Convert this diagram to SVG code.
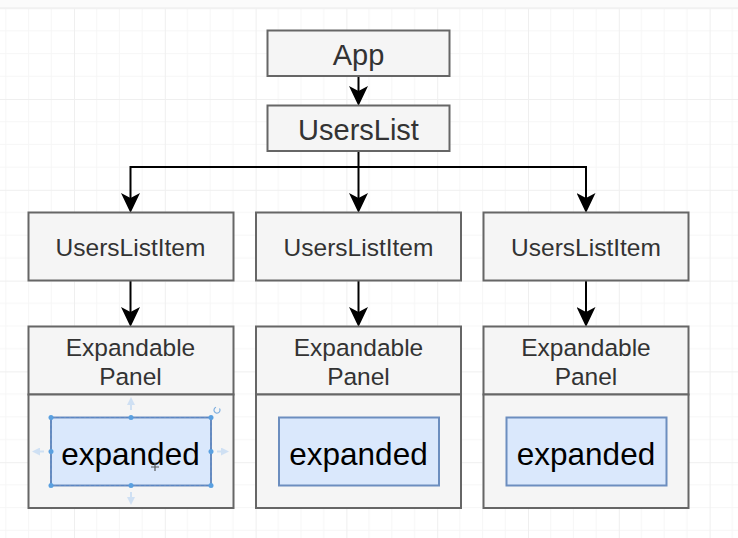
<svg xmlns="http://www.w3.org/2000/svg" width="738" height="538" viewBox="0 0 738 538">
  <defs>
    <pattern id="grid" patternUnits="userSpaceOnUse" x="74" y="99" width="90.8" height="90.8">
      <path d="M22.7,0V90.8M45.4,0V90.8M68.1,0V90.8M0,22.7H90.8M0,45.4H90.8M0,68.1H90.8" stroke="#f6f6f6" stroke-width="1" fill="none"/>
      <path d="M0.5,0V90.8M0,0.5H90.8" stroke="#efefef" stroke-width="1" fill="none"/>
    </pattern>
    <marker id="arrow" markerUnits="userSpaceOnUse" viewBox="0 0 20 19" markerWidth="20" markerHeight="19" refX="5" refY="9.5" orient="auto">
      <path d="M0,0 L20,9.5 L0,19 L5,9.5 Z" fill="#000"/>
    </marker>
    <marker id="hint" markerUnits="userSpaceOnUse" viewBox="0 0 8 8" markerWidth="8" markerHeight="8" refX="4" refY="4" orient="auto">
      <path d="M0,0 L8,4 L0,8 Z" fill="#cfe0f3"/>
    </marker>
  </defs>
  <style>
    .box { fill: #f5f5f5; stroke: #666666; stroke-width: 2; }
    .inner { fill: #dae8fc; stroke: #6c8ebf; stroke-width: 2; }
    .t { font-family: "Liberation Sans", Arial, Helvetica, sans-serif; fill: #333333; text-anchor: middle; }
    .big { font-size: 29px; }
    .mid { font-size: 24.5px; }
    .exp { font-size: 31.5px; fill: #000000; }
    .edge { fill: none; stroke: #000000; stroke-width: 2; marker-end: url(#arrow); }
    .line { fill: none; stroke: #000000; stroke-width: 2; }
    .handle { fill: #5aa0e0; }
  </style>
  <rect x="0" y="0" width="738" height="538" fill="#ffffff"/>
  <rect x="0" y="8" width="738" height="530" fill="url(#grid)"/>
  <rect x="0" y="0" width="738" height="8" fill="#fbfbfb"/>
  <line x1="0" y1="8" x2="738" y2="8" stroke="#f0f0f0" stroke-width="1.5"/>

  <g id="connectors">
    <path class="edge" d="M358.5,76 V91"/>
    <path class="line" d="M130.5,167 H586"/>
    <path class="edge" d="M358.5,151 V198"/>
    <path class="edge" d="M130.5,166 V198"/>
    <path class="edge" d="M586,166 V198"/>
    <path class="edge" d="M130.5,280 V312"/>
    <path class="edge" d="M358.5,280 V312"/>
    <path class="edge" d="M586,280 V312"/>
  </g>

  <g id="app">
    <rect class="box" x="267.5" y="30.5" width="182" height="45.5"/>
    <text class="t big" x="358.5" y="65">App</text>
  </g>
  <g id="userslist">
    <rect class="box" x="267.5" y="105.5" width="182" height="45.5"/>
    <text class="t big" x="358.5" y="139.5">UsersList</text>
  </g>

  <g id="item1">
    <rect class="box" x="28.5" y="212.5" width="205" height="68"/>
    <text class="t mid" x="130.5" y="256">UsersListItem</text>
  </g>
  <g id="item2">
    <rect class="box" x="256" y="212.5" width="205" height="68"/>
    <text class="t mid" x="358.5" y="256">UsersListItem</text>
  </g>
  <g id="item3">
    <rect class="box" x="483.5" y="212.5" width="205" height="68"/>
    <text class="t mid" x="586" y="256">UsersListItem</text>
  </g>

  <g id="panel1">
    <rect class="box" x="28.5" y="326.5" width="205" height="68"/>
    <rect class="box" x="28.5" y="394.5" width="205" height="113.5"/>
    <text class="t mid" x="130.5" y="356">Expandable</text>
    <text class="t mid" x="130.5" y="385">Panel</text>
  </g>
  <g id="panel2">
    <rect class="box" x="256" y="326.5" width="205" height="68"/>
    <rect class="box" x="256" y="394.5" width="205" height="113.5"/>
    <text class="t mid" x="358.5" y="356">Expandable</text>
    <text class="t mid" x="358.5" y="385">Panel</text>
  </g>
  <g id="panel3">
    <rect class="box" x="483.5" y="326.5" width="205" height="68"/>
    <rect class="box" x="483.5" y="394.5" width="205" height="113.5"/>
    <text class="t mid" x="586" y="356">Expandable</text>
    <text class="t mid" x="586" y="385">Panel</text>
  </g>

  <g id="expanded1">
    <rect class="inner" x="51" y="417.5" width="160" height="68"/>
    <text class="t exp" x="130.5" y="465">expanded</text>
  </g>
  <g id="expanded2">
    <rect class="inner" x="279" y="417.5" width="160" height="68"/>
    <text class="t exp" x="358.5" y="465">expanded</text>
  </g>
  <g id="expanded3">
    <rect class="inner" x="506.5" y="417.5" width="160" height="68"/>
    <text class="t exp" x="586" y="465">expanded</text>
  </g>

  <g id="selection">
    <rect x="51" y="417.5" width="160" height="68" fill="none" stroke="#5b86c4" stroke-width="1" stroke-dasharray="3,2"/>
    <circle class="handle" cx="51" cy="417.5" r="2.5"/>
    <circle class="handle" cx="131" cy="417.5" r="2.5"/>
    <circle class="handle" cx="211" cy="417.5" r="2.5"/>
    <circle class="handle" cx="51" cy="451.5" r="2.5"/>
    <circle class="handle" cx="211" cy="451.5" r="2.5"/>
    <circle class="handle" cx="51" cy="485.5" r="2.5"/>
    <circle class="handle" cx="131" cy="485.5" r="2.5"/>
    <circle class="handle" cx="211" cy="485.5" r="2.5"/>
    <path d="M131,410 V401" stroke="#cfe0f3" stroke-width="2" fill="none" marker-end="url(#hint)"/>
    <path d="M131,492 V501" stroke="#cfe0f3" stroke-width="2" fill="none" marker-end="url(#hint)"/>
    <path d="M44,451.5 H36" stroke="#cfe0f3" stroke-width="2" fill="none" marker-end="url(#hint)"/>
    <path d="M217,451.5 H225" stroke="#cfe0f3" stroke-width="2" fill="none" marker-end="url(#hint)"/>
    <path d="M219.5,408.5 A3,3 0 1 1 216,407.3" stroke="#7fb0e0" stroke-width="1.2" fill="none"/>
    <path d="M155,463 V471 M151,467 H159" stroke="#555555" stroke-width="1.2" fill="none"/>
  </g>
</svg>
